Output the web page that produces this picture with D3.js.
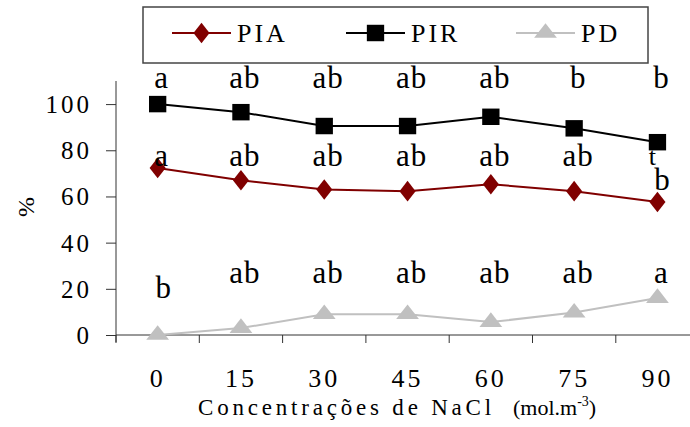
<!DOCTYPE html>
<html>
<head>
<meta charset="utf-8">
<script src="https://cdn.jsdelivr.net/npm/d3@7"></script>
<style>
  body { margin: 0; background: #fff; }
</style>
</head>
<body>
<div id="chart"></div>
<script>
// ---------------------------//
//          DATA              //
// ---------------------------//
const concentrations = ["0", "15", "30", "45", "60", "75", "90"];
const yTicks = [0, 20, 40, 60, 80, 100];

const pir = [100, 96.5, 90.5, 90.5, 94.5, 89.5, 83.5];
const pia = [72.3, 67, 63, 62.3, 65.3, 62.3, 57.6];
const pd  = [0, 3, 9, 9, 5.6, 9.7, 16];

const pirLetters = ["a", "ab", "ab", "ab", "ab", "b", "b"];
const piaLetters = ["a", "ab", "ab", "ab", "ab", "ab", "b"];
const pdLetters  = ["b", "ab", "ab", "ab", "ab", "ab", "a"];

const serif = "Tinos, 'Liberation Serif', 'Times New Roman', Times, 'Noto Serif', 'DejaVu Serif', serif";

// ---------------------------//
//       SET  CANVAS          //
// ---------------------------//
const W = 690, H = 427;
const svg = d3.select("#chart").append("svg")
    .attr("width", W).attr("height", H)
    .style("font-family", serif);

const x = d3.scaleBand()
    .domain(concentrations)
    .range([116, 116 + 7 * 83.3]);
const cx = d => x(d) + x.bandwidth() / 2;

const y = d3.scaleLinear()
    .domain([0, 110])
    .range([335, 81]);

// Y axis
const yAxis = svg.append("g")
    .attr("transform", "translate(116,0)")
    .call(d3.axisLeft(y).tickValues(yTicks).tickSize(10).tickSizeOuter(0).tickPadding(14));
yAxis.attr("font-family", null).attr("font-size", null);
yAxis.select(".domain").attr("stroke", "#333").attr("d", `M0,${y(110)}V342`);
yAxis.selectAll(".tick line").attr("stroke", "#333");
yAxis.selectAll("text")
    .style("font-size", "25px")
    .style("letter-spacing", "3px")
    .attr("dy", "0.34em");

// X axis
const xAxis = svg.append("g")
    .attr("transform", `translate(0,${y(0)})`)
    .call(d3.axisBottom(x).tickSize(0).tickSizeOuter(0));
xAxis.attr("font-family", null).attr("font-size", null);
xAxis.select(".domain").attr("stroke", "#333").attr("d", `M116,0H${W}`);
xAxis.selectAll("text")
    .attr("y", 52).attr("dy", 0)
    .style("font-size", "26px")
    .style("letter-spacing", "3px");

svg.append("g").selectAll("line")
    .data(concentrations)
    .join("line")
    .attr("x1", d => x(d)).attr("x2", d => x(d))
    .attr("y1", y(0)).attr("y2", y(0) + 8)
    .attr("stroke", "#333");

// Axis titles
svg.append("text")
    .attr("transform", "translate(34,207) rotate(-90)")
    .attr("text-anchor", "middle")
    .style("font-size", "24px")
    .text("%");

const xt = svg.append("text")
    .attr("x", 198).attr("y", 415)
    .style("font-size", "23px");
xt.append("tspan").style("letter-spacing", "3.8px").text("Concentrações de NaCl");
xt.append("tspan").attr("dx", 18).style("font-size", "22px").text("(mol.m");
xt.append("tspan").attr("dy", -9).style("font-size", "14px").text("-3");
xt.append("tspan").attr("dy", 9).style("font-size", "22px").text(")");

// ---------------------------//
//        SERIES              //
// ---------------------------//
const series = [
  {name: "PIA", values: pia, color: "#800000", symbol: d3.symbolDiamond, sx: 1.15, sy: 0.85, size: 170},
  {name: "PIR", values: pir, color: "#000000", symbol: d3.symbolSquare, sx: 1, sy: 0.95, size: 300},
  {name: "PD",  values: pd,  color: "#c0c0c0", symbol: d3.symbolTriangle, sx: 1.15, sy: 0.85, size: 170}
];

const line = d3.line().x((v, i) => cx(concentrations[i])).y(v => y(v));

series.forEach(s => {
  svg.append("path")
      .attr("d", line(s.values))
      .attr("fill", "none")
      .attr("stroke", s.color)
      .attr("stroke-width", 2);
  svg.append("g").selectAll("path")
      .data(s.values)
      .join("path")
      .attr("d", d3.symbol(s.symbol, s.size))
      .attr("transform", (v, i) => `translate(${cx(concentrations[i])},${y(v)}) scale(${s.sx},${s.sy})`)
      .attr("fill", s.color);
});

// ---------------------------//
//     SIGNIFICANCE LETTERS   //
// ---------------------------//
function letters(arr, baseline, extra) {
  svg.append("g").selectAll("text")
      .data(arr)
      .join("text")
      .attr("x", (d, i) => cx(concentrations[i]) + 4 + (extra[i] ? extra[i][0] : 0))
      .attr("y", (d, i) => baseline + (extra[i] ? extra[i][1] : 0))
      .attr("text-anchor", "middle")
      .style("font-size", "31px")
      .style("letter-spacing", "1px")
      .text(d => d);
}
letters(pirLetters, 88, {});
letters(piaLetters, 166, {6: [1, 24]});
letters(pdLetters, 283, {0: [2, 15]});

// stray glyph left over under the last PIR marker
svg.append("text")
    .attr("x", cx("90") - 5).attr("y", 165)
    .attr("text-anchor", "middle")
    .style("font-size", "26px")
    .text("t");

// ---------------------------//
//          LEGEND            //
// ---------------------------//
const legend = svg.append("g");
legend.append("rect")
    .attr("x", 143).attr("y", 7)
    .attr("width", 505).attr("height", 56)
    .attr("fill", "#fff")
    .attr("stroke", "#444")
    .attr("stroke-width", 1.5);

const legendX = [172, 346, 516];
series.forEach((s, i) => {
  const g = legend.append("g").attr("transform", `translate(${legendX[i]},33)`);
  g.append("line").attr("x1", 0).attr("x2", 59)
      .attr("stroke", s.color).attr("stroke-width", 2);
  g.append("path")
      .attr("d", d3.symbol(s.symbol, s.size))
      .attr("transform", `translate(29.5,0) scale(${s.sx},${s.sy})`)
      .attr("fill", s.color);
  g.append("text")
      .attr("x", 65).attr("y", 9)
      .style("font-size", "26px")
      .style("letter-spacing", "3px")
      .text(s.name);
});

// make sure every label uses the serif face
svg.selectAll("text").style("font-family", serif).attr("fill", "#000");
</script>
</body>
</html>
